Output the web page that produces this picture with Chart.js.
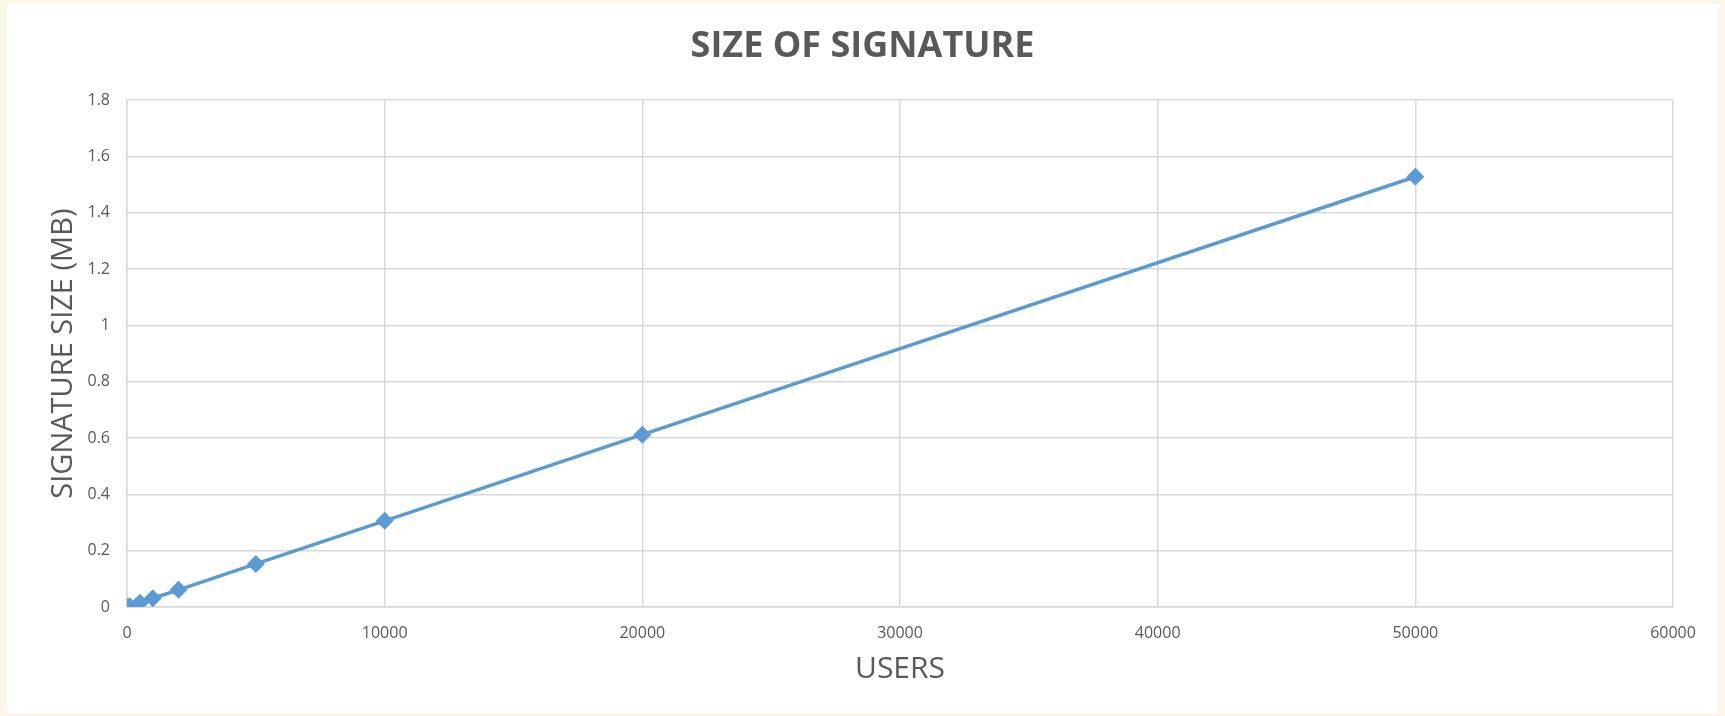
<!DOCTYPE html>
<html>
<head>
<meta charset="utf-8">
<script src="https://cdn.jsdelivr.net/npm/chart.js@4.4.1/dist/chart.umd.min.js"></script>
<style>
  html, body { margin: 0; padding: 0; background: #fcf6e9; }
  #wrap { position: absolute; left: 7px; top: 4px; width: 1711px; height: 709px; background: #fff; }
</style>
</head>
<body>
<div id="wrap"><canvas id="myChart"></canvas></div>
<script>
// values
const users = [10, 100, 500, 1000, 2000, 5000, 10000, 20000, 50000];
const sizeMb = [0.0003, 0.003, 0.015, 0.031, 0.061, 0.153, 0.306, 0.612, 1.528];
const xRange = [0, 60000];
const yRange = [0, 1.8];

const textColor = '#595959';
const gridColor = '#d9d9d9';
const lineColor = '#5b9bd5';

const points = users.map((u, i) => ({ x: u, y: sizeMb[i] }));

// title is centred on the whole canvas, not on the padded area
const centerTitle = {
    id: 'centerTitle',
    afterLayout(chart) {
        if (chart.titleBlock) {
            chart.titleBlock.left = 0;
            chart.titleBlock.right = chart.width;
        }
    }
};

const ctx = document.getElementById('myChart').getContext('2d');
new Chart(ctx, {
    type: 'line',
    data: {
        datasets: [{
            label: 'Signature size',
            data: points,
            borderColor: lineColor,
            backgroundColor: lineColor,
            borderWidth: 3.5,
            pointStyle: 'rectRot',
            pointRadius: 6.5,
            pointHoverRadius: 6.5,
            fill: false,
            tension: 0,
        }]
    },
    options: {
        responsive: true,
        maintainAspectRatio: false,
        animation: false,
        layout: { padding: { left: 0, right: 45, top: 0, bottom: 0 } },
        plugins: {
            legend: { display: false },
            tooltip: { enabled: false },
            title: {
                display: true,
                text: 'SIZE OF SIGNATURE',
                color: textColor,
                font: { family: 'Open Sans', size: 36, weight: 'bold' },
                padding: { top: 21, bottom: 32 },
            },
        },
        scales: {
            x: {
                type: 'linear',
                min: xRange[0],
                max: xRange[1],
                ticks: {
                    stepSize: 10000,
                    color: textColor,
                    font: { family: 'Open Sans', size: 16 },
                    padding: 17,
                    maxRotation: 0,
                    callback: v => String(v),
                },
                grid: { color: gridColor, lineWidth: 1.5, drawTicks: false },
                border: { color: gridColor, width: 1.5 },
                title: {
                    display: true,
                    text: 'USERS',
                    color: textColor,
                    font: { family: 'Open Sans', size: 30 },
                    padding: { top: 0, bottom: 26 },
                },
                afterFit: scale => { scale.height = 106; },
            },
            y: {
                min: yRange[0],
                max: yRange[1],
                ticks: {
                    stepSize: 0.2,
                    color: textColor,
                    font: { family: 'Open Sans', size: 16 },
                    padding: 17,
                    callback: v => String(Math.round(v * 10) / 10),
                },
                grid: { color: gridColor, lineWidth: 1.5, drawTicks: false },
                border: { color: gridColor, width: 1.5 },
                title: {
                    display: true,
                    text: 'SIGNATURE SIZE (MB)',
                    color: textColor,
                    font: { family: "'Liberation Sans Narrow', 'Open Sans'", size: 29 },
                    padding: { top: 39, bottom: 0 },
                },
                afterFit: scale => { scale.width = 120; },
            },
        },
    },
    plugins: [centerTitle],
});
</script>
</body>
</html>
